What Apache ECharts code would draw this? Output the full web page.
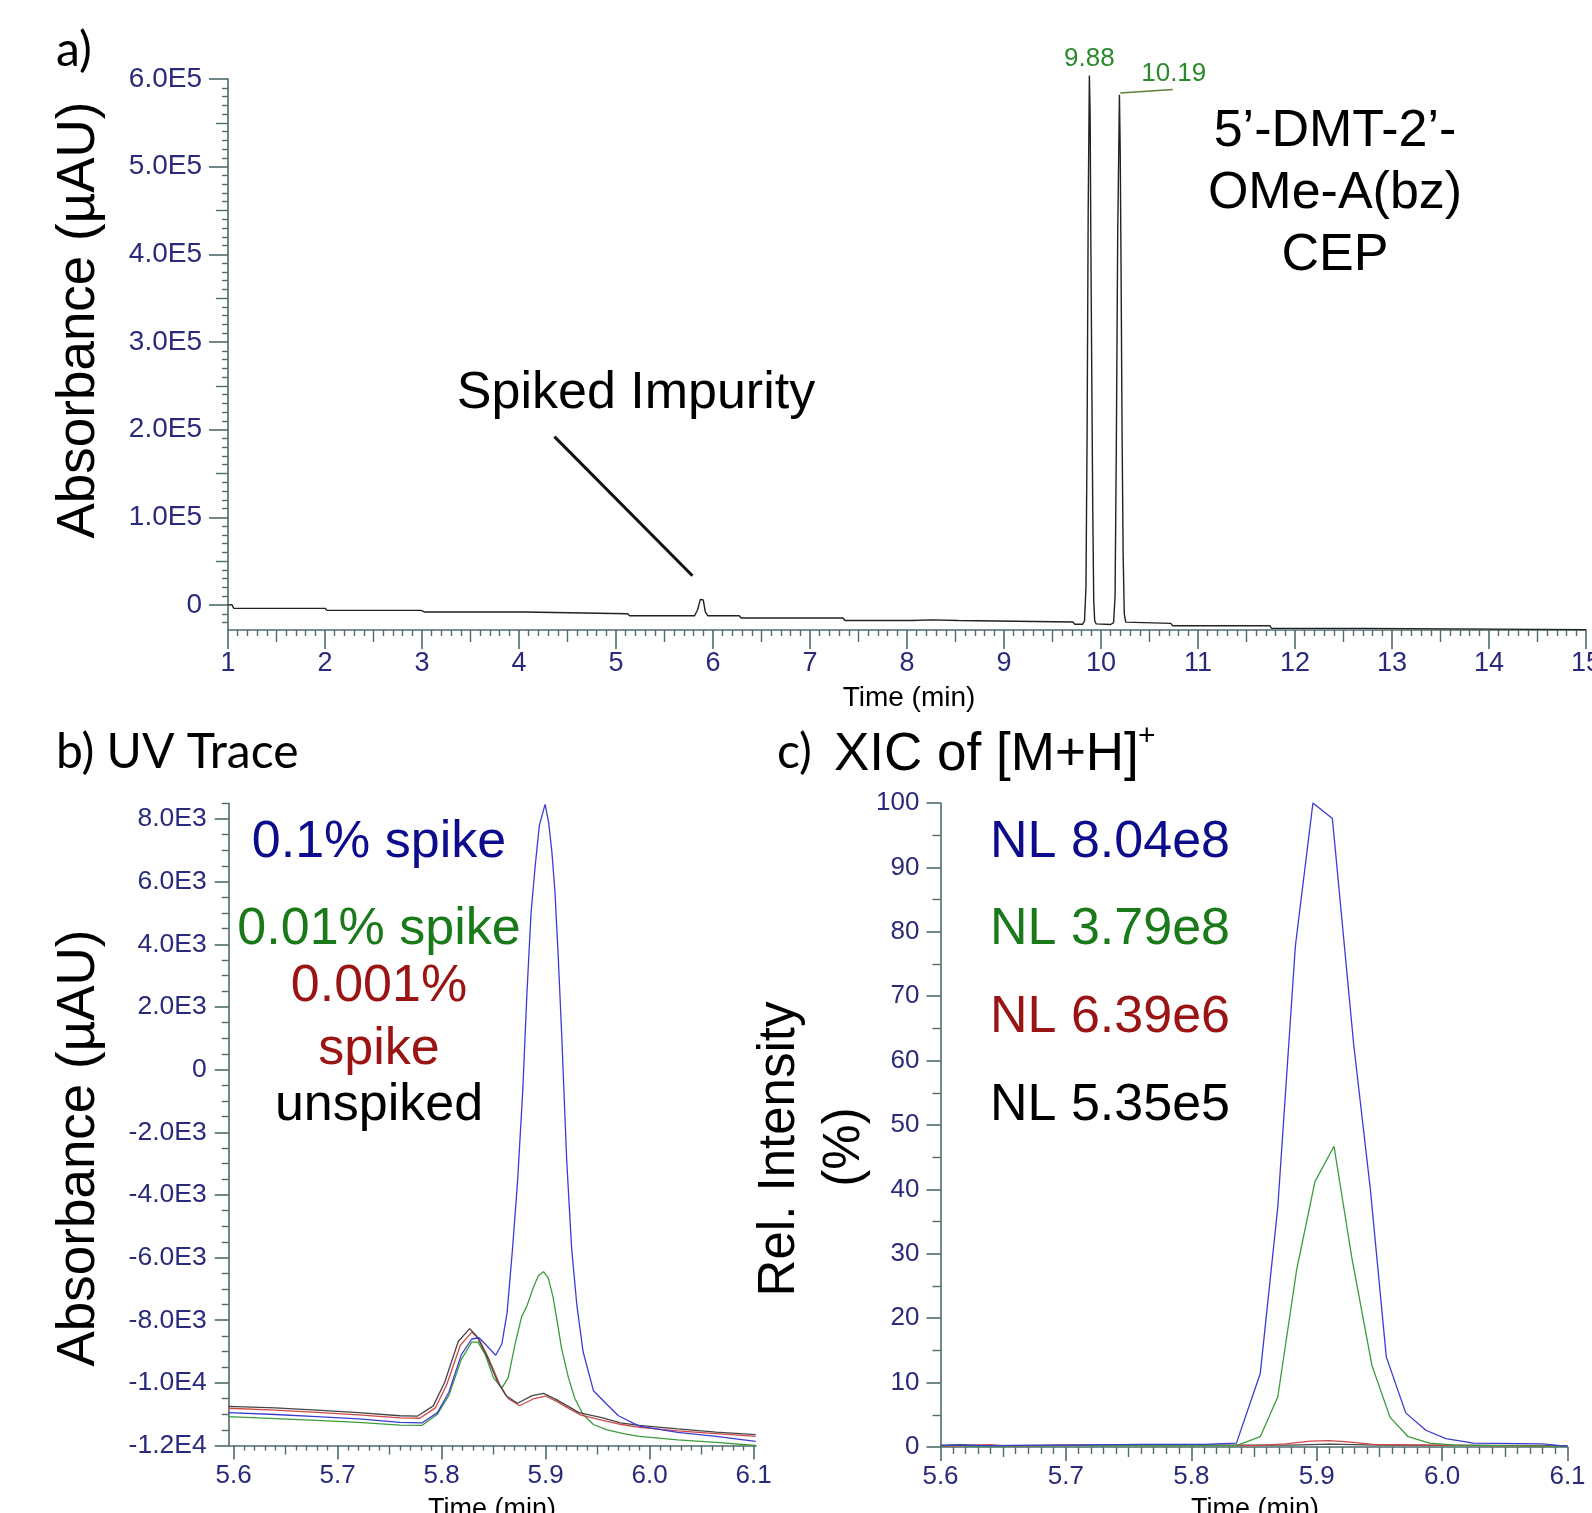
<!DOCTYPE html>
<html><head><meta charset="utf-8">
<script src="https://cdn.jsdelivr.net/npm/echarts@6/dist/echarts.min.js"></script>
<style>html,body{margin:0;padding:0;background:#fff}#c{width:1592px;height:1513px}</style>
</head><body><div id="c"></div>
<script>
// ---------------- DATA ----------------
// Panel a: full UV chromatogram [time (min), absorbance (µAU)]
const fullRunTrace = [
[1.00,0],[1.04,500],[1.06,-3800],[2.00,-3800],[2.02,-6100],[2.99,-6100],[3.03,-8000],[4.06,-8000],[4.08,-9900],[5.12,-9900],[5.14,-12200],[5.81,-12200],[5.84,-5700],[5.87,6500],[5.885,8400],[5.90,5700],[5.92,-7600],[5.945,-12200],[6.27,-12200],[6.29,-14800],[7.34,-14800],[7.36,-17600],[8.05,-17600],[8.07,-16900],[8.25,-16900],[8.27,-17600],[8.53,-17600],[8.55,-19400],[9.71,-19400],[9.73,-22000],[9.81,-22000],[9.83,-18000],[9.845,20000],[9.857,200000],[9.868,450000],[9.88,604000],[9.888,560000],[9.895,420000],[9.905,260000],[9.915,110000],[9.925,5000],[9.935,-18000],[9.95,-21500],[9.97,-22200],[10.10,-22200],[10.13,-20000],[10.145,10000],[10.158,180000],[10.172,420000],[10.19,582000],[10.198,520000],[10.207,380000],[10.217,200000],[10.228,60000],[10.24,-10000],[10.255,-19500],[10.27,-20900],[10.72,-20900],[10.74,-23600],[11.74,-23600],[11.76,-26600],[12.73,-26600],[12.75,-28100],[15.00,-28100]
];
const peakLabels = ['9.88', '10.19'];
const peakTimes = [9.88, 10.19];

// Panel b: UV trace zoom [time, µAU]
const uvSpike01 = [
[5.595,-10950],[5.64,-11010],[5.68,-11080],[5.72,-11150],[5.76,-11260],[5.781,-11280],[5.796,-10950],[5.807,-10300],[5.819,-9100],[5.829,-8600],[5.836,-8560],[5.843,-8800],[5.852,-9120],[5.858,-8750],[5.863,-7750],[5.868,-5800],[5.873,-3600],[5.878,-700],[5.882,2400],[5.886,5000],[5.890,6500],[5.894,7800],[5.8995,8470],[5.903,7880],[5.906,6970],[5.909,5670],[5.912,3710],[5.9155,1100],[5.9203,-2900],[5.925,-5700],[5.930,-7500],[5.936,-9000],[5.946,-10250],[5.959,-10690],[5.970,-11050],[5.990,-11380],[6.027,-11580],[6.064,-11710],[6.102,-11870]
];
const uvSpike001 = [
[5.595,-11080],[5.64,-11140],[5.68,-11200],[5.72,-11260],[5.76,-11350],[5.781,-11360],[5.796,-11000],[5.807,-10400],[5.819,-9250],[5.829,-8700],[5.835,-8700],[5.842,-9100],[5.850,-9850],[5.858,-10160],[5.864,-9840],[5.8705,-8790],[5.877,-7880],[5.882,-7550],[5.888,-6970],[5.893,-6580],[5.898,-6450],[5.9025,-6650],[5.907,-7230],[5.911,-8010],[5.9155,-8920],[5.922,-9840],[5.928,-10490],[5.936,-11010],[5.946,-11330],[5.959,-11500],[5.975,-11620],[5.990,-11710],[6.027,-11820],[6.064,-11900],[6.102,-12000]
];
const uvSpike0001 = [
[5.595,-10810],[5.64,-10870],[5.68,-10940],[5.72,-11020],[5.76,-11120],[5.779,-11130],[5.794,-10800],[5.805,-10050],[5.818,-8800],[5.829,-8380],[5.836,-8600],[5.845,-9200],[5.856,-10060],[5.864,-10500],[5.875,-10730],[5.889,-10500],[5.900,-10420],[5.911,-10600],[5.923,-10830],[5.934,-11030],[5.955,-11200],[5.973,-11330],[5.990,-11420],[6.027,-11530],[6.064,-11620],[6.102,-11710]
];
const uvUnspiked = [
[5.595,-10750],[5.64,-10800],[5.68,-10870],[5.72,-10950],[5.76,-11050],[5.777,-11060],[5.792,-10735],[5.803,-9980],[5.816,-8680],[5.827,-8270],[5.834,-8520],[5.843,-9110],[5.854,-9980],[5.862,-10410],[5.873,-10650],[5.887,-10410],[5.898,-10335],[5.9095,-10520],[5.921,-10735],[5.932,-10950],[5.954,-11110],[5.972,-11280],[5.990,-11360],[6.027,-11470],[6.064,-11570],[6.102,-11655]
];

// Panel c: XIC relative intensity [time, %]
const xicSpike01 = [
[5.600,0.3],[5.640,0.2],[5.700,0.3],[5.760,0.4],[5.810,0.4],[5.836,0.6],[5.855,11.4],[5.869,37.3],[5.883,77.8],[5.897,100],[5.9125,97.6],[5.9295,62.5],[5.9428,40],[5.9555,14],[5.971,5.3],[5.987,2.6],[6.003,1.3],[6.025,0.6],[6.080,0.5],[6.100,0.1]
];
const xicSpike001 = [
[5.600,0.1],[5.610,0.3],[5.625,0.1],[5.700,0.2],[5.800,0.2],[5.836,0.2],[5.855,1.6],[5.869,7.8],[5.884,27.5],[5.8986,41.2],[5.9138,46.7],[5.928,29.4],[5.944,12.7],[5.9585,4.6],[5.973,1.6],[5.990,0.6],[6.010,0.3],[6.100,0.1]
];
const xicSpike0001 = [
[5.600,0.1],[5.620,0.2],[5.640,0.35],[5.655,0.1],[5.700,0.3],[5.800,0.3],[5.850,0.2],[5.875,0.5],[5.895,0.9],[5.910,1.0],[5.925,0.8],[5.945,0.4],[6.000,0.3],[6.100,0.1]
];
const xicUnspiked = [
[5.600,0.2],[5.615,0.35],[5.640,0.2],[5.700,0.3],[5.800,0.3],[5.880,0.3],[5.910,0.45],[5.950,0.3],[6.100,0.2]
];

// Tick values and labels
const aXTicks = [1,2,3,4,5,6,7,8,9,10,11,12,13,14,15];
const aXLabels = ['1','2','3','4','5','6','7','8','9','10','11','12','13','14','15'];
const aYTicks = [0,100000,200000,300000,400000,500000,600000];
const aYLabels = ['0','1.0E5','2.0E5','3.0E5','4.0E5','5.0E5','6.0E5'];
const bXTicks = [5.6,5.7,5.8,5.9,6.0,6.1];
const bXLabels = ['5.6','5.7','5.8','5.9','6.0','6.1'];
const bYTicks = [-12000,-10000,-8000,-6000,-4000,-2000,0,2000,4000,6000,8000];
const bYLabels = ['-1.2E4','-1.0E4','-8.0E3','-6.0E3','-4.0E3','-2.0E3','0','2.0E3','4.0E3','6.0E3','8.0E3'];
const cXTicks = [5.6,5.7,5.8,5.9,6.0,6.1];
const cXLabels = ['5.6','5.7','5.8','5.9','6.0','6.1'];
const cYTicks = [0,10,20,30,40,50,60,70,80,90,100];
const cYLabels = ['0','10','20','30','40','50','60','70','80','90','100'];

// ---------------- STYLE ----------------
const AXIS = '#4f6b6b';
const TICKLBL = '#2a2a7c';
const ARIAL = '"Liberation Sans", Arial, sans-serif';
const CAL = 'Lato, "Open Sans", sans-serif';
const C_BLUE_T = '#0c0c8c', C_GREEN_T = '#1a7a1a', C_RED_T = '#9a1414';
const C_BLUE_L = '#3c3cd4', C_GREEN_L = '#3c9c3c', C_RED_L = '#d24848', C_BLACK_L = '#454545';

function seq(a, b, step) {
  const out = []; const n = Math.round((b - a) / step);
  for (let i = 0; i <= n; i++) out.push(+(a + i * step).toFixed(6));
  return out;
}
function minus(arr, ex) { return arr.filter(v => !ex.some(e => Math.abs(e - v) < 1e-7)); }
function fmt(ticks, labels) {
  return function (v) {
    let best = 0;
    for (let i = 1; i < ticks.length; i++) if (Math.abs(ticks[i] - v) < Math.abs(ticks[best] - v)) best = i;
    return labels[best];
  };
}
function axisGroup(dir, gridIndex, min, max, major, labels, medium, minor, st) {
  const base = { type: 'value', gridIndex, min, max, position: dir === 'x' ? 'bottom' : 'left',
    splitLine: { show: false }, minorTick: { show: false }, minorSplitLine: { show: false }, silent: true };
  const main = Object.assign({}, base, {
    axisLine: { show: true, onZero: false, lineStyle: { color: AXIS, width: 1.6 } },
    axisTick: { show: true, customValues: major, length: st.major, lineStyle: { color: AXIS, width: 1.6 } },
    axisLabel: { show: true, customValues: major, formatter: fmt(major, labels), color: TICKLBL,
      fontSize: st.fs, fontFamily: ARIAL, margin: st.margin, hideOverlap: false }
  });
  const out = [main];
  const extra = (vals, len) => Object.assign({}, base, {
    axisLine: { show: false, onZero: false },
    axisTick: { show: true, customValues: vals, length: len, lineStyle: { color: AXIS, width: 1.4 } },
    axisLabel: { show: false }
  });
  out.push(extra(medium, st.medium));
  out.push(extra(minor, st.minor));
  return out;
}

// Axis sets
const aMin = -28500, aMax = 600000;
const bXMin = 5.5953, bXMax = 6.1023, bYMin = -12000, bYMax = 8500;

const aXMed = seq(1.5, 14.5, 1);
const aXMin = minus(seq(1, 15, 0.1), seq(1, 15, 0.5));
const aYMed = seq(50000, 550000, 100000);
const aYMinor = minus(seq(-20000, 600000, 10000), seq(0, 600000, 50000));

const bXMedV = seq(5.65, 6.05, 0.1);
const bXMinV = minus(seq(5.60, 6.10, 0.01), seq(5.6, 6.1, 0.05));
const bYMinV = minus(seq(-12000, 8500, 500), bYTicks);

const cXMedV = seq(5.65, 6.05, 0.1);
const cXMinV = minus(seq(5.60, 6.10, 0.01), seq(5.6, 6.1, 0.05));
const cYMinV = seq(5, 95, 10);

const xAxes = [].concat(
  axisGroup('x', 0, 1, 15, aXTicks, aXLabels, aXMed, aXMin, { major: 19, medium: 12, minor: 6, fs: 27, margin: 20 }),
  axisGroup('x', 1, bXMin, bXMax, bXTicks, bXLabels, bXMedV, bXMinV, { major: 14, medium: 9, minor: 5, fs: 26, margin: 17 }),
  axisGroup('x', 2, 5.6, 6.1, cXTicks, cXLabels, cXMedV, cXMinV, { major: 14, medium: 10, minor: 7, fs: 26, margin: 17 })
);
const yAxes = [].concat(
  axisGroup('y', 0, aMin, aMax, aYTicks, aYLabels, aYMed, aYMinor, { major: 19, medium: 12, minor: 6, fs: 28, margin: 26 }),
  axisGroup('y', 1, bYMin, bYMax, bYTicks, bYLabels, [], bYMinV, { major: 14, medium: 10, minor: 7, fs: 26.5, margin: 22 }),
  axisGroup('y', 2, 0, 100, cYTicks, cYLabels, [], cYMinV, { major: 14, medium: 10, minor: 8, fs: 26, margin: 21 })
);

function line(data, color, xi, yi, width) {
  return { type: 'line', data, xAxisIndex: xi, yAxisIndex: yi, showSymbol: false, symbol: 'none',
    lineStyle: { color, width: width || 1.3 }, clip: false, silent: true, animation: false, z: 3 };
}

const seriesA = line(fullRunTrace, '#222', 0, 0, 1.4);
seriesA.markLine = {
  silent: true, symbol: ['none', 'none'], label: { show: false }, animation: false,
  data: [
    [{ coord: [4.365, 192100], lineStyle: { color: '#111', width: 3, type: 'solid' } },
     { coord: [5.788, 33400], lineStyle: { color: '#111', width: 3, type: 'solid' } }],
    [{ coord: [peakTimes[1] + 0.01, 584000], lineStyle: { color: '#5f7f3a', width: 1.5, type: 'solid' } },
     { coord: [10.74, 588000], lineStyle: { color: '#5f7f3a', width: 1.5, type: 'solid' } }]
  ]
};
seriesA.markPoint = {
  silent: true, symbol: 'circle', symbolSize: 1, itemStyle: { color: 'rgba(0,0,0,0)' }, animation: false,
  label: { show: true, position: 'top', color: '#2a8a2a', fontSize: 26, fontFamily: ARIAL },
  data: [
    { coord: [peakTimes[0], 599000], label: { formatter: peakLabels[0], distance: 8 } },
    { coord: [10.75, 588000], label: { formatter: peakLabels[1], distance: 2 } }
  ]
};

const series = [
  seriesA,
  line(uvSpike001, C_GREEN_L, 3, 3),
  line(uvSpike0001, C_RED_L, 3, 3),
  line(uvUnspiked, C_BLACK_L, 3, 3),
  line(uvSpike01, C_BLUE_L, 3, 3),
  line(xicUnspiked, C_BLACK_L, 6, 6),
  line(xicSpike0001, C_RED_L, 6, 6),
  line(xicSpike001, C_GREEN_L, 6, 6),
  line(xicSpike01, C_BLUE_L, 6, 6)
];

function txt(text, x, y, size, color, family, align, rot) {
  return { type: 'text', x, y, rotation: rot || 0, silent: true, z: 10,
    style: { text, x: 0, y: 0, fill: color || '#000', font: size + 'px ' + (family || ARIAL),
      textAlign: align || 'center', textVerticalAlign: 'middle', align: align || 'center', verticalAlign: 'middle' } };
}

const graphics = [
  txt('a)', 56, 51, 48, '#000', CAL, 'left'),
  txt('b) UV Trace', 56, 753, 48, '#000', CAL, 'left'),
  txt('c)', 777, 753, 48, '#000', CAL, 'left'),
  txt('XIC of [M+H]', 834, 755, 53, '#000', ARIAL, 'left'),
  txt('+', 1138, 737, 30, '#000', ARIAL, 'left'),
  txt('Absorbance (µAU)', 79, 320, 53, '#000', ARIAL, 'center', Math.PI / 2),
  txt('Absorbance (µAU)', 79, 1148, 53, '#000', ARIAL, 'center', Math.PI / 2),
  txt('Rel. Intensity', 780, 1149, 51, '#000', ARIAL, 'center', Math.PI / 2),
  txt('(%)', 845, 1147, 51, '#000', ARIAL, 'center', Math.PI / 2),
  txt('Time (min)', 909, 698, 28, '#000', ARIAL),
  txt('Time (min)', 492, 1510, 27, '#000', ARIAL),
  txt('Time (min)', 1255, 1510, 27, '#000', ARIAL),
  txt('Spiked Impurity', 636, 394, 52, '#000', ARIAL),
  txt('5’-DMT-2’-', 1335, 132, 52, '#000', ARIAL),
  txt('OMe-A(bz)', 1335, 194, 52, '#000', ARIAL),
  txt('CEP', 1335, 256, 52, '#000', ARIAL),
  txt('0.1% spike', 379, 843, 52, C_BLUE_T),
  txt('0.01% spike', 379, 930, 52, C_GREEN_T),
  txt('0.001%', 379, 987, 52, C_RED_T),
  txt('spike', 379, 1050, 52, C_RED_T),
  txt('unspiked', 379, 1106, 52, '#000'),
  txt('NL 8.04e8', 990, 843, 52, C_BLUE_T, ARIAL, 'left'),
  txt('NL 3.79e8', 990, 930, 52, C_GREEN_T, ARIAL, 'left'),
  txt('NL 6.39e6', 990, 1018, 52, C_RED_T, ARIAL, 'left'),
  txt('NL 5.35e5', 990, 1106, 52, '#000', ARIAL, 'left')
];

const chart = echarts.init(document.getElementById('c'), null, { renderer: 'canvas', width: 1592, height: 1513 });
chart.setOption({
  backgroundColor: '#fff',
  animation: false,
  grid: [
    { left: 228, top: 79, width: 1358, height: 551, outerBoundsMode: 'none', containLabel: false },
    { left: 228.7, top: 803.4, width: 527.3, height: 642.1, outerBoundsMode: 'none', containLabel: false },
    { left: 940.5, top: 803, width: 627, height: 644, outerBoundsMode: 'none', containLabel: false }
  ],
  xAxis: xAxes,
  yAxis: yAxes,
  series,
  graphic: graphics
});
</script></body></html>
